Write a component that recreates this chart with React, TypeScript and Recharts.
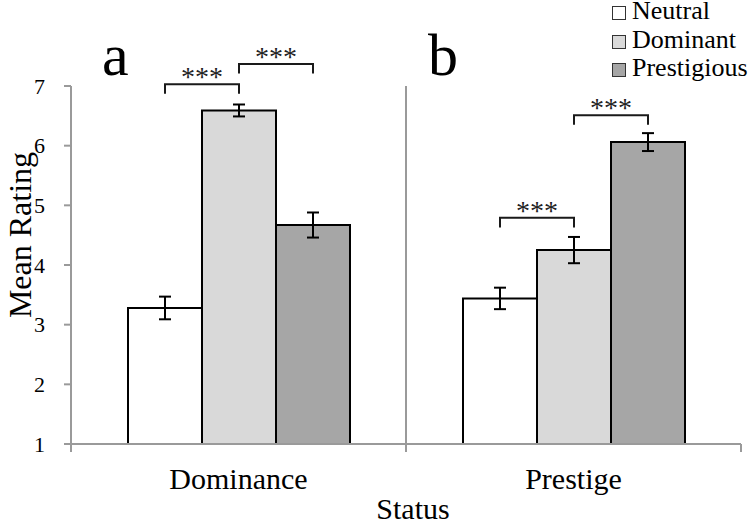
import React from 'react'
import { BarChart, Bar, XAxis, YAxis, ErrorBar, Legend, LabelList } from 'recharts'

const statusTypes = ['Dominance', 'Prestige']
const neutralMeans = [3.28, 3.44]
const dominantMeans = [6.59, 4.25]
const prestigiousMeans = [4.67, 6.06]
const neutralErr = [0.19, 0.18]
const dominantErr = [0.1, 0.22]
const prestigiousErr = [0.21, 0.15]
// height of the *** brackets, in rating units
const bracketNeutralDominant = [7.03, 4.79]
const bracketDominantPrestigious = [7.37, 6.51]
const yTicks = [1, 2, 3, 4, 5, 6, 7]
const panelLetters = ['a', 'b']
const seriesNames = ['Neutral', 'Dominant', 'Prestigious']
const seriesColors = ['#ffffff', '#d9d9d9', '#a6a6a6']

const data = statusTypes.map((status, i) => ({
  status,
  neutral: neutralMeans[i],
  dominant: dominantMeans[i],
  prestigious: prestigiousMeans[i],
  neutralErr: neutralErr[i],
  dominantErr: dominantErr[i],
  prestigiousErr: prestigiousErr[i],
}))

const SERIF = 'Liberation Serif, Tinos, Times New Roman, Nimbus Roman, DejaVu Serif, serif'
const AXIS = '#9a9a9a'
const W = 755
const H = 524
const MARGIN = { top: 86, right: 14, left: 0, bottom: 0 }
const Y_AXIS_W = 71
const X_AXIS_H = 80
const PLOT_W = W - MARGIN.left - MARGIN.right - Y_AXIS_W
const PLOT_H = H - MARGIN.top - MARGIN.bottom - X_AXIS_H
const BAND = PLOT_W / statusTypes.length

function makeBracket(levels: number[], means: number[]) {
  return (props: any) => {
    const vb = props.viewBox || props
    const index = props.index
    const lvl = levels[index]
    const val = means[index]
    if (lvl == null || val == null) return null
    const x = Number(vb.x)
    const y = Number(vb.y)
    const w = Number(vb.width)
    const h = Number(vb.height)
    const ppu = h / (val - 1)
    const base = y + h
    const yTop = base - (lvl - 1) * ppu
    const drop = 0.16 * ppu
    const x1 = x + w / 2
    const x2 = x + w * 1.5
    return (
      <g>
        <path
          d={`M${x1},${yTop + drop}V${yTop}H${x2}V${yTop + drop}`}
          fill="none"
          stroke="#1a1a1a"
          strokeWidth={2}
        />
        <text x={(x1 + x2) / 2} y={yTop + 2} textAnchor="middle" fontSize={28} fontFamily={SERIF} fill="#222">
          ***
        </text>
      </g>
    )
  }
}

const CategoryTick = (props: any) => {
  const { x, y, payload, index } = props
  const half = BAND / 2
  const last = index === statusTypes.length - 1
  return (
    <g>
      {index === 0 && <line x1={x - half} y1={y} x2={x - half} y2={y + 8} stroke={AXIS} strokeWidth={2} />}
      <line x1={x + half} y1={last ? y : y - PLOT_H} x2={x + half} y2={y + 8} stroke={AXIS} strokeWidth={2} />
      <text x={x} y={y + 45} textAnchor="middle" fontSize={30} fontFamily={SERIF} fill="#000">
        {payload.value}
      </text>
    </g>
  )
}

const renderLegend = () => (
  <div style={{ fontFamily: SERIF, fontSize: 26, lineHeight: '22px', color: '#000' }}>
    {seriesNames.map((name, i) => (
      <div
        key={name}
        style={{ display: 'flex', alignItems: 'center', whiteSpace: 'nowrap', height: 22, marginBottom: 6.5 }}
      >
        <span
          style={{
            display: 'inline-block',
            width: 12,
            height: 12,
            border: '1.5px solid #333',
            background: seriesColors[i],
            marginRight: 6,
            position: 'relative',
            top: 2,
          }}
        />
        {name}
      </div>
    ))}
  </div>
)

export default function App() {
  return (
    <div style={{ position: 'absolute', left: 0, top: 0, width: W, height: H, background: '#fff' }}>
      <BarChart width={W} height={H} data={data} margin={MARGIN} barSize={74} barGap={0}>
        <XAxis
          dataKey="status"
          height={X_AXIS_H}
          axisLine={{ stroke: AXIS, strokeWidth: 2 }}
          tickLine={false}
          tickSize={0}
          tickMargin={0}
          tick={<CategoryTick />}
          interval={0}
          label={{
            content: () => (
              <text x={413} y={519} textAnchor="middle" fontSize={30} fontFamily={SERIF} fill="#000">
                Status
              </text>
            ),
          }}
        />
        <YAxis
          width={Y_AXIS_W}
          domain={[1, 7]}
          ticks={yTicks}
          interval={0}
          axisLine={{ stroke: AXIS, strokeWidth: 2 }}
          tickLine={{ stroke: AXIS, strokeWidth: 2 }}
          tickSize={7}
          tickMargin={19}
          tick={{ fontSize: 22, fontFamily: SERIF, fill: '#000' }}
          label={{
            content: () => (
              <text
                x={20}
                y={235}
                transform="rotate(-90, 20, 235)"
                textAnchor="middle"
                dominantBaseline="central"
                fontSize={32}
                fontFamily={SERIF}
                fill="#000"
              >
                Mean Rating
              </text>
            ),
          }}
        />
        <Legend
          layout="vertical"
          align="center"
          verticalAlign="middle"
          content={renderLegend}
          wrapperStyle={{ left: 612, top: 0, width: 150 }}
        />
        <Bar dataKey="neutral" name="Neutral" fill={seriesColors[0]} stroke="#000" strokeWidth={2} isAnimationActive={false}>
          <ErrorBar dataKey="neutralErr" width={6} stroke="#000" strokeWidth={2} />
          <LabelList dataKey="neutral" content={makeBracket(bracketNeutralDominant, neutralMeans)} />
        </Bar>
        <Bar dataKey="dominant" name="Dominant" fill={seriesColors[1]} stroke="#000" strokeWidth={2} isAnimationActive={false}>
          <ErrorBar dataKey="dominantErr" width={6} stroke="#000" strokeWidth={2} />
          <LabelList dataKey="dominant" content={makeBracket(bracketDominantPrestigious, dominantMeans)} />
        </Bar>
        <Bar dataKey="prestigious" name="Prestigious" fill={seriesColors[2]} stroke="#000" strokeWidth={2} isAnimationActive={false}>
          <ErrorBar dataKey="prestigiousErr" width={6} stroke="#000" strokeWidth={2} />
        </Bar>
      </BarChart>
      <svg width={W} height={H} style={{ position: 'absolute', left: 0, top: 0, pointerEvents: 'none' }}>
        {panelLetters.map((letter, i) => (
          <text key={letter} x={[102, 428][i]} y={75} fontSize={60} fontFamily={SERIF} fill="#000">
            {letter}
          </text>
        ))}
      </svg>
    </div>
  )
}
